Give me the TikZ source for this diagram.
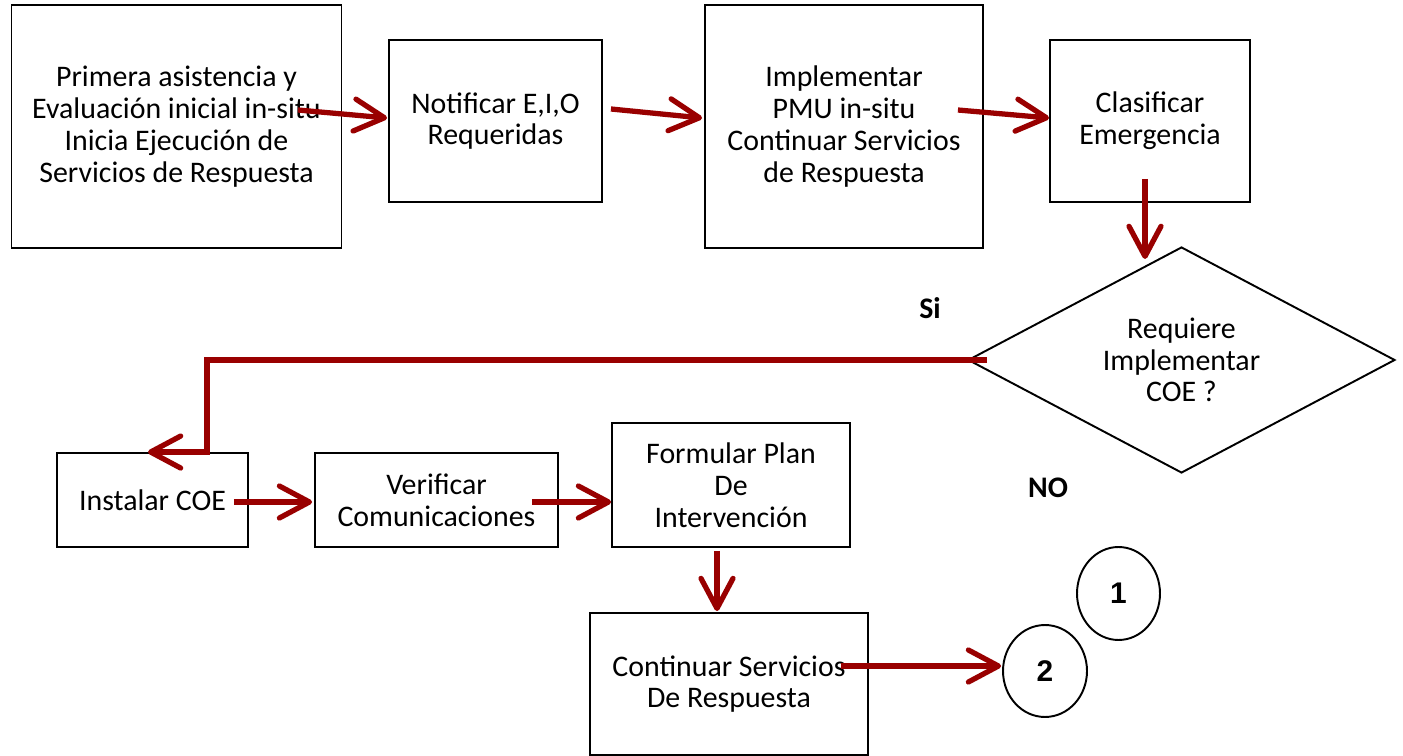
\documentclass[tikz,border=0pt]{standalone}
\usepackage{fontspec}
\setmainfont{Carlito}
\newfontfamily\numfont{Liberation Sans}
\usetikzlibrary{arrows.meta, shapes.geometric}
\definecolor{flechared}{RGB}{153, 0, 0}
\tikzset{
	caja/.style={draw, line width=1.1pt, align=center, inner sep=0pt, font=\fontsize{17}{18.1}\selectfont},
	rombo/.style={caja, diamond, aspect=1.9},
	marca/.style={draw, ellipse, line width=1.1pt, inner sep=0pt, font=\numfont\bfseries\fontsize{17}{20}\selectfont},
	flecha/.style={line width=3pt, flechared, -{Straight Barb[length=0.6cm, width=0.64cm, round]}},
	rama/.style={font=\bfseries\fontsize{17}{18}\selectfont}
}

\begin{document}
\begin{tikzpicture}[x=0.02cm, y=-0.02cm]
		\useasboundingbox(0, 0)rectangle(1403, 756);
		\node[caja, minimum width=6.6cm, minimum height=4.86cm](ini)at(176.5, 126.5){Primera asistencia y\\Evaluación inicial in-situ\\Inicia Ejecución de\\Servicios de Respuesta};
		\node[caja, minimum width=4.26cm, minimum height=3.24cm](not)at(495.5, 121){Notificar E,I,O\\Requeridas};
		\node[caja, minimum width=5.56cm, minimum height=4.86cm](imp)at(844, 126.5){Implementar\\PMU in-situ\\Continuar Servicios\\de Respuesta};
		\node[caja, minimum width=4cm, minimum height=3.24cm](cla)at(1150, 121){Clasificar\\Emergencia};
		\node[rombo, minimum width=8.54cm, minimum height=4.52cm](coe)at(1181.5, 360){Requiere\\Implementar\\COE ?};
		\node[rama](si)at(930, 308){Si};
		\node[rama](no)at(1048, 488){NO};
		\node[caja, minimum width=3.82cm, minimum height=1.88cm](ins)at(152.5, 500){Instalar COE};
		\node[caja, minimum width=4.86cm, minimum height=1.88cm](ver)at(436.5, 500){Verificar\\Comunicaciones};
		\node[caja, minimum width=4.76cm, minimum height=2.48cm](for)at(731, 485){Formular Plan\\De\\Intervención};
		\node[caja, minimum width=5.56cm, minimum height=2.84cm](con)at(729, 684){Continuar Servicios\\De Respuesta};
		\node[marca, minimum width=1.66cm, minimum height=1.86cm](uno)at(1118.5, 593.5){1};
		\node[marca, minimum width=1.68cm, minimum height=1.84cm](dos)at(1045, 671){2};
		% flechas
		\draw[flecha]([shift={(-44.5, -16.5)}]ini.east)--([shift={(-1, -3)}]not.west);
		\draw[flecha]([shift={(8, -12)}]not.east)--([shift={(-2, -8.5)}]imp.west);
		\draw[flecha]([shift={(-26, -16.5)}]imp.east)--([shift={(0, -3)}]cla.west);
		\draw[flecha]([shift={(-5, -24)}]cla.south)--([shift={(-5, 56)}]cla.south);
		\draw[flecha]([shift={(20, 0)}]coe.west)-|([shift={(54.5, 0)}]ins.north)--([shift={(-4.5, 0)}]ins.north);
		\draw[flecha]([shift={(-15, 2)}]ins.east)--([shift={(-2, 2)}]ver.west);
		\draw[flecha]([shift={(-26.5, 2)}]ver.east)--([shift={(0, 17)}]for.west);
		\draw[flecha]([shift={(-14, 3)}]for.south)--([shift={(-12, -1)}]con.north);
		\draw[flecha]([shift={(-28, -18)}]con.east)--([shift={(-1, -5)}]dos.west);
	\end{tikzpicture}
\end{document}
